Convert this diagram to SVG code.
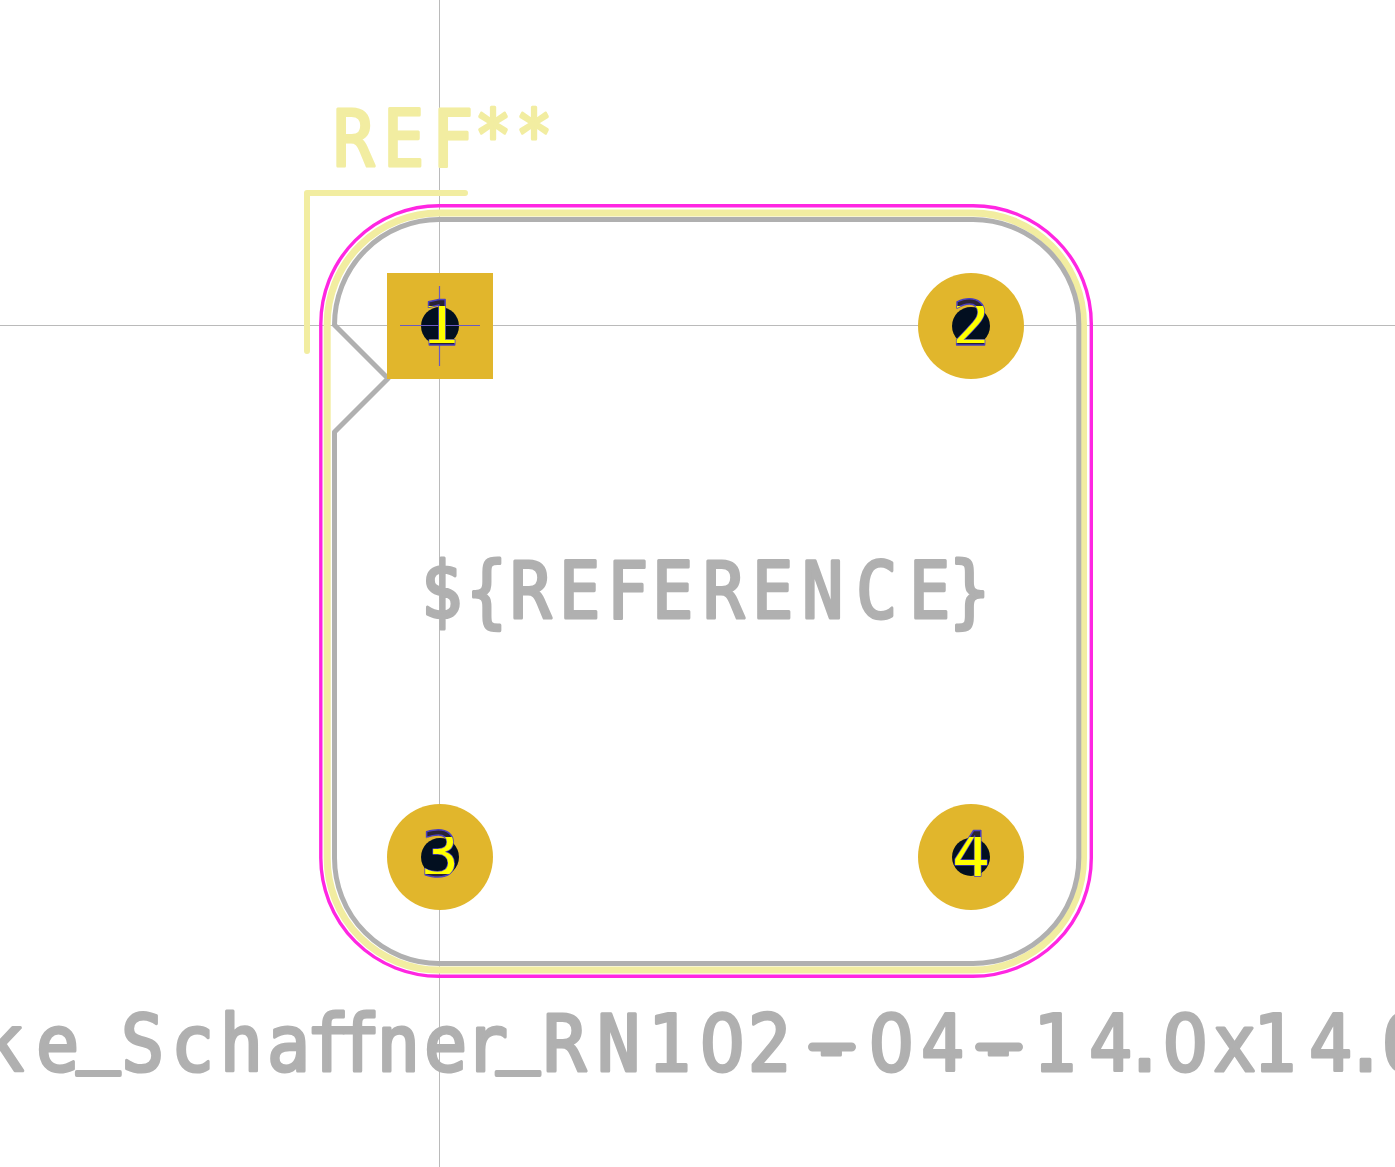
<svg xmlns="http://www.w3.org/2000/svg" width="1395" height="1167" viewBox="0 0 1395 1167">
<style>
.g{stroke:#bababa;stroke-width:1;fill:none}
.o{fill:none;stroke-linecap:round;stroke-linejoin:round}
.t{font-family:"DejaVu Sans Mono",monospace;font-size:78px;stroke-width:3.200;stroke-linejoin:round;stroke-linecap:round}
.t .d{font-family:"DejaVu Sans",sans-serif}
.t .u{stroke-width:4}
.s{fill:#f2eda1;stroke:#f2eda1}
.f{fill:#b0b0b0;stroke:#b0b0b0}
.p{fill:#e1b62c}
.h{fill:#020f20}
.n{font-family:"DejaVu Sans Mono",monospace;font-size:63px;text-anchor:middle}
.a{fill:#2a2333;stroke:#4a3fc0;stroke-width:1.500;stroke-linejoin:round}
.y{fill:#ffff00}
.x{stroke:#6a5ac0;stroke-width:1.200;fill:none}
</style>
<defs>
<clipPath id="c1"><rect x="400" y="306" width="80" height="37"/></clipPath>
<clipPath id="c2"><rect x="931" y="306" width="80" height="37"/></clipPath>
<clipPath id="c3"><rect x="400" y="837" width="80" height="37"/></clipPath>
<clipPath id="c4"><rect x="931" y="837" width="80" height="40"/></clipPath>
</defs>
<rect width="1395" height="1167" fill="#ffffff"/>
<g id="grid"><path class="g" d="M439.500,0V1167M0,325.500H1395"/></g>
<g id="courtyard"><path class="o" stroke="#ff26e2" stroke-width="3.400" d="M439,205.700H973A118.300,118.300 0 0 1 1091.300,324V858A118.300,118.300 0 0 1 973,976.300H439A118.200,118.200 0 0 1 320.800,858V324A118.200,118.200 0 0 1 439,205.700Z"/></g>
<g id="silk">
<path class="o" stroke="#f2eda1" stroke-width="7" d="M439,213H973A110.500,111 0 0 1 1083.500,324V858A110.500,112 0 0 1 973,970H439A111.800,112 0 0 1 327.200,858V324A111.800,111 0 0 1 439,213Z"/>
<path class="o" stroke="#f2eda1" stroke-width="6" d="M307,351V193H465"/>
<text class="t s" y="166.500" transform="scale(.88 1)"><tspan x="378.500 435.300 491">REF</tspan><tspan style="font-size:69px" y="159" x="539.400 586">**</tspan></text>
</g>
<g id="fab">
<path class="o" stroke="#b0b0b0" stroke-width="5" d="M439,219.500H973A105.800,104.500 0 0 1 1078.800,324V858A105.800,105.500 0 0 1 973,963.500H439A104.500,105.500 0 0 1 334.500,858V432L388,378.500L334.500,325A104.500,105.500 0 0 1 439,219.500Z"/>
<text class="t f" y="618" transform="scale(.88 1)" x="478.500 529.600 579.600 635.300 689.800 741 798.900 854.600 911.400 972.800 1033 1078.500">${REFERENCE}</text>
<path class="o" stroke="#b0b0b0" stroke-width="9" d="M812.500,1047H851.500M979.500,1047H1018.500"/>
<text class="t f" y="1071" transform="scale(.92 1)"><tspan x="-20.800 39">ke</tspan><tspan class="u" y="1056" x="83.300">_</tspan><tspan y="1071" x="131.400 185.800 239 290.100 332.800 366.400 409.600 460.800 505.300">Schaffner</tspan><tspan class="u" y="1056" x="539.800">_</tspan><tspan y="1071" x="590.100 648.800 704.200">RN1</tspan><tspan class="d" x="760.300">0</tspan><tspan x="812.900">2</tspan><tspan y="1073" x="880.300">-</tspan><tspan class="d" y="1071" x="944">0</tspan><tspan x="1001">4</tspan><tspan y="1073" x="1061.800">-</tspan><tspan y="1071" x="1122.700 1183.600 1220.600">14.</tspan><tspan class="d" x="1263.600">0</tspan><tspan x="1318.400 1361.900 1422.700 1460.800">x14.</tspan><tspan class="d" x="1502">0</tspan></text>
</g>
<g id="pad1">
<rect class="p" x="387" y="273" width="106" height="106"/>
<circle class="h" cx="440" cy="326" r="19"/>
<path class="x" d="M400,325.500H480M439.500,286V366"/>
<text class="n a" x="440" y="345">1</text>
<text class="n y" x="440" y="345" clip-path="url(#c1)">1</text>
</g>
<g id="pad2">
<circle class="p" cx="971" cy="326" r="53"/>
<circle class="h" cx="971" cy="326" r="19"/>
<text class="n a" x="971" y="345">2</text>
<text class="n y" x="971" y="345" clip-path="url(#c2)">2</text>
</g>
<g id="pad3">
<circle class="p" cx="440" cy="857" r="53"/>
<circle class="h" cx="440" cy="857" r="19"/>
<text class="n a" x="440" y="876">3</text>
<text class="n y" x="440" y="876" clip-path="url(#c3)">3</text>
</g>
<g id="pad4">
<circle class="p" cx="971" cy="857" r="53"/>
<circle class="h" cx="971" cy="857" r="19"/>
<text class="n a" x="971" y="876">4</text>
<text class="n y" x="971" y="876" clip-path="url(#c4)">4</text>
</g>
</svg>
